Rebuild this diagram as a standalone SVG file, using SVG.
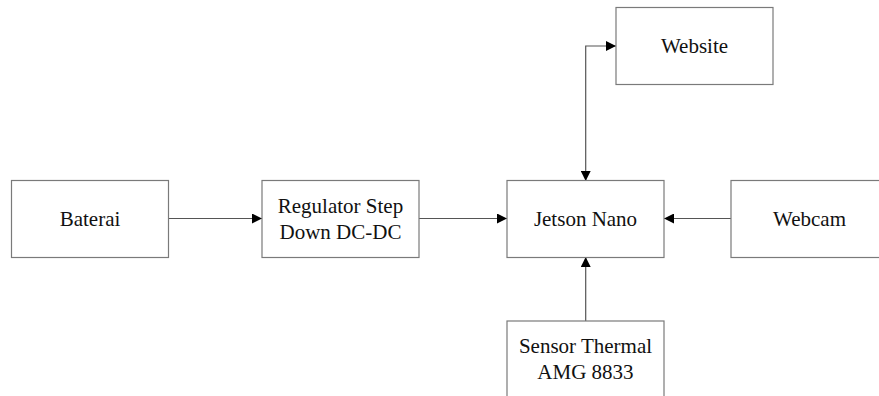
<svg xmlns="http://www.w3.org/2000/svg" width="879" height="396" viewBox="0 0 879 396">
<style>
.box{fill:#fff;stroke:#7a7a7a;stroke-width:1.2}
.lbl{font-family:"Liberation Serif","Times New Roman",serif;font-size:21px;fill:#111;text-anchor:middle}
.con{fill:none;stroke:#555;stroke-width:1.2}
</style>
<defs>
<marker id="ah" viewBox="0 0 10 10" refX="10" refY="5" markerWidth="13" markerHeight="10" markerUnits="userSpaceOnUse" orient="auto-start-reverse">
<path d="M0,0 L10,5 L0,10 Z" fill="#000"/>
</marker>
</defs>
<rect width="879" height="396" fill="#fff"/>
<g id="connectors">
<line class="con" x1="168" y1="218.5" x2="262" y2="218.5" marker-end="url(#ah)"/>
<line class="con" x1="419" y1="218.5" x2="507" y2="218.5" marker-end="url(#ah)"/>
<line class="con" x1="731" y1="218.5" x2="664" y2="218.5" marker-end="url(#ah)"/>
<line class="con" x1="585.7" y1="321" x2="585.7" y2="257" marker-end="url(#ah)"/>
<polyline class="con" points="585.7,181 585.7,46 616,46" marker-start="url(#ah)" marker-end="url(#ah)"/>
</g>
<g id="baterai">
<rect class="box" x="11.5" y="180.5" width="157" height="77"/>
<text class="lbl" x="90" y="226">Baterai</text>
</g>
<g id="regulator">
<rect class="box" x="262" y="180.5" width="157" height="77"/>
<text class="lbl" x="340.5" y="213">Regulator Step</text>
<text class="lbl" x="340.5" y="239">Down DC-DC</text>
</g>
<g id="jetson">
<rect class="box" x="507" y="180.5" width="157" height="77"/>
<text class="lbl" x="585.5" y="226">Jetson Nano</text>
</g>
<g id="website">
<rect class="box" x="616" y="7.5" width="157" height="77"/>
<text class="lbl" x="694.5" y="53">Website</text>
</g>
<g id="webcam">
<rect class="box" x="731" y="180.5" width="157" height="77"/>
<text class="lbl" x="809.5" y="226">Webcam</text>
</g>
<g id="sensor">
<rect class="box" x="507" y="321" width="157" height="77"/>
<text class="lbl" x="585.5" y="353">Sensor Thermal</text>
<text class="lbl" x="585.5" y="379">AMG 8833</text>
</g>
</svg>
